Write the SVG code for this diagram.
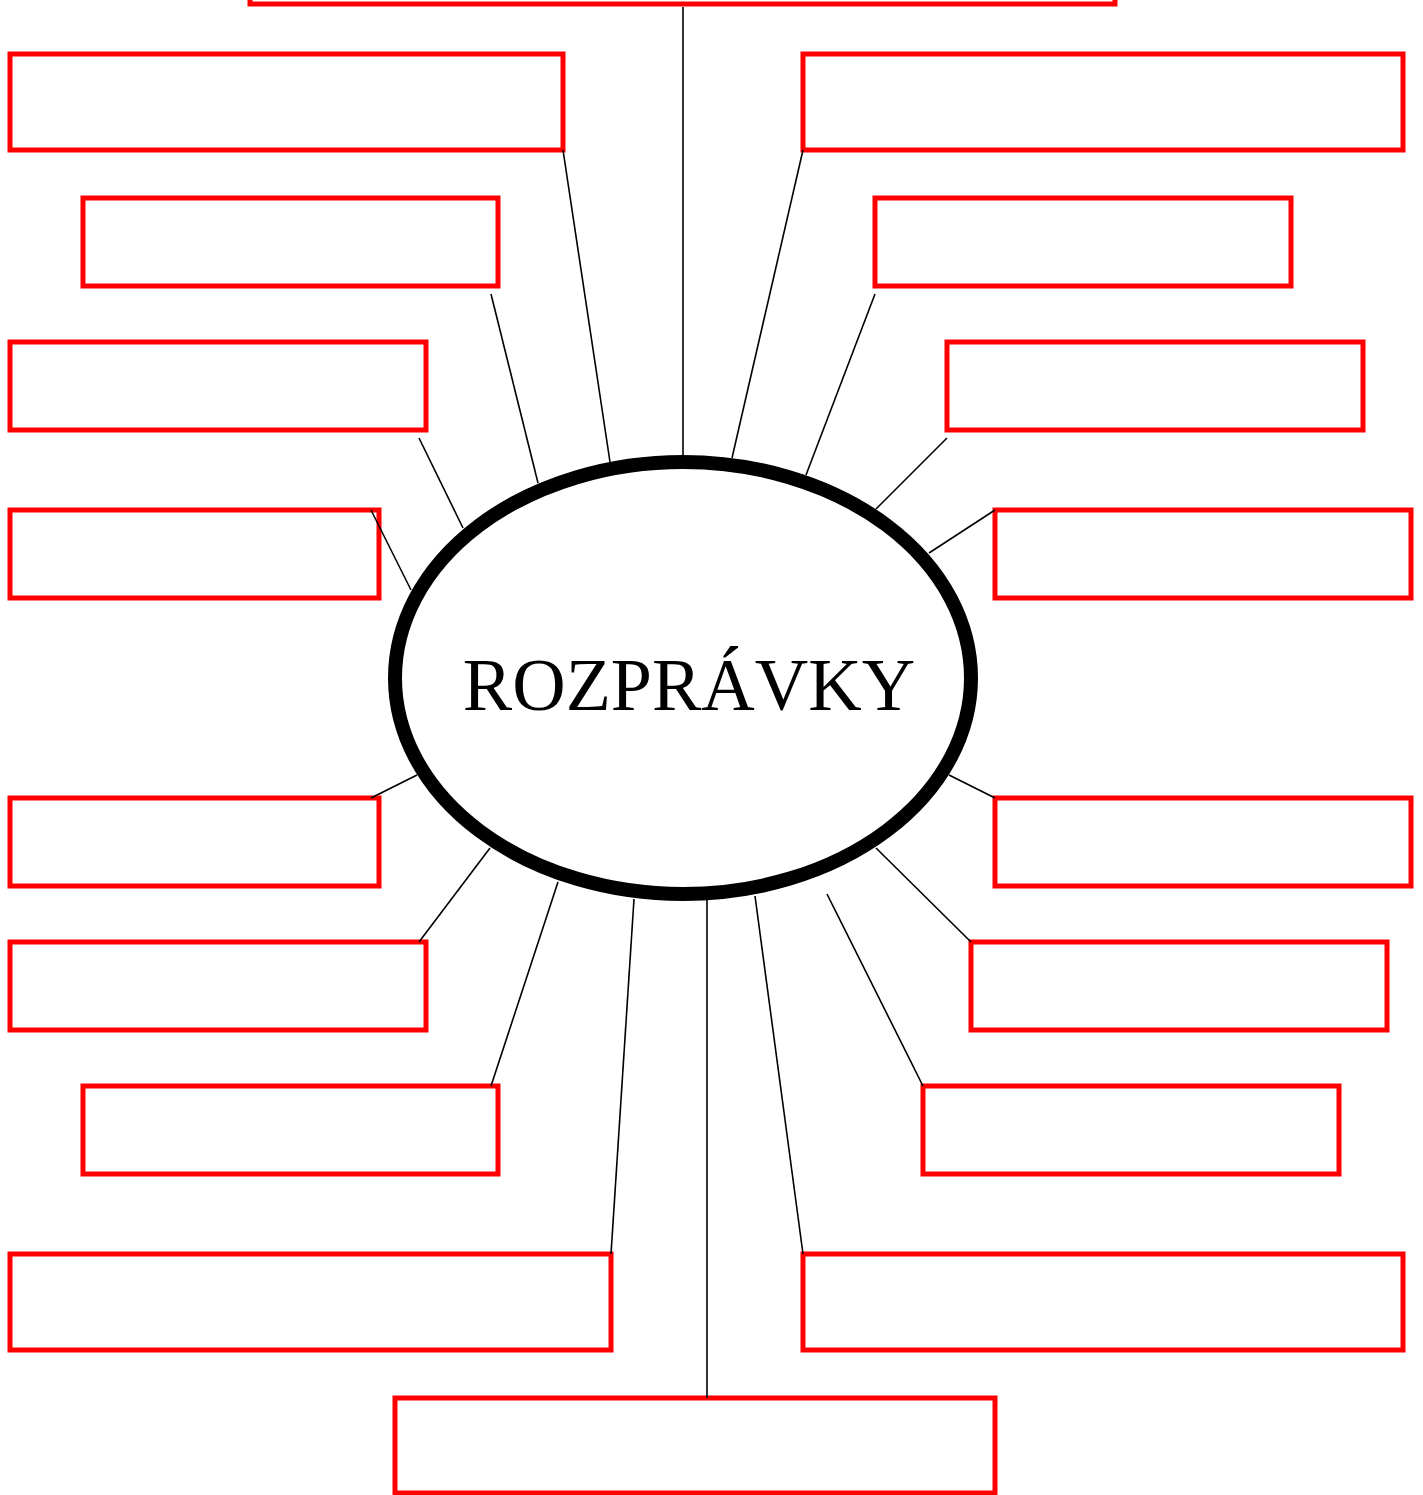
<svg xmlns="http://www.w3.org/2000/svg" width="1423" height="1495" viewBox="0 0 1423 1495">
<style>
.box{fill:#fff;stroke:#ff0000;stroke-width:5}
.c{stroke:#000;stroke-width:1.6;fill:none}
.t{font-family:"Liberation Serif",serif;font-size:74px;fill:#000}
</style>
<rect width="1423" height="1495" fill="#fff"/>
<g id="n0"><rect class="box" x="250" y="-40" width="865" height="44"/></g>
<g id="n1"><rect class="box" x="10" y="54" width="553" height="96"/></g>
<g id="n2"><rect class="box" x="803" y="54" width="600" height="96"/></g>
<g id="n3"><rect class="box" x="83" y="198" width="415" height="88"/></g>
<g id="n4"><rect class="box" x="875" y="198" width="416" height="88"/></g>
<g id="n5"><rect class="box" x="10" y="342" width="416" height="88"/></g>
<g id="n6"><rect class="box" x="947" y="342" width="416" height="88"/></g>
<g id="n7"><rect class="box" x="10" y="510" width="369" height="88"/></g>
<g id="n8"><rect class="box" x="995" y="510" width="416" height="88"/></g>
<g id="n9"><rect class="box" x="10" y="798" width="369" height="88"/></g>
<g id="n10"><rect class="box" x="995" y="798" width="416" height="88"/></g>
<g id="n11"><rect class="box" x="10" y="942" width="416" height="88"/></g>
<g id="n12"><rect class="box" x="971" y="942" width="416" height="88"/></g>
<g id="n13"><rect class="box" x="83" y="1086" width="415" height="88"/></g>
<g id="n14"><rect class="box" x="923" y="1086" width="416" height="88"/></g>
<g id="n15"><rect class="box" x="10" y="1254" width="601" height="96"/></g>
<g id="n16"><rect class="box" x="803" y="1254" width="600" height="96"/></g>
<g id="n17"><rect class="box" x="395" y="1398" width="600" height="95"/></g>
<g id="connectors">
<line class="c" x1="683" y1="7" x2="683" y2="458"/>
<line class="c" x1="563" y1="150" x2="610" y2="462"/>
<line class="c" x1="491" y1="294" x2="538" y2="483"/>
<line class="c" x1="419" y1="438" x2="463" y2="528"/>
<line class="c" x1="371" y1="510" x2="411" y2="590"/>
<line class="c" x1="803" y1="150" x2="732" y2="458"/>
<line class="c" x1="875" y1="294" x2="806" y2="475"/>
<line class="c" x1="947" y1="438" x2="876" y2="509"/>
<line class="c" x1="995" y1="510" x2="929" y2="553"/>
<line class="c" x1="371" y1="798" x2="417" y2="775"/>
<line class="c" x1="419" y1="942" x2="490" y2="848"/>
<line class="c" x1="491" y1="1086" x2="558" y2="882"/>
<line class="c" x1="611" y1="1254" x2="634" y2="899"/>
<line class="c" x1="707" y1="1398" x2="707" y2="900"/>
<line class="c" x1="803" y1="1254" x2="755" y2="896"/>
<line class="c" x1="923" y1="1086" x2="827" y2="894"/>
<line class="c" x1="971" y1="942" x2="876" y2="848"/>
<line class="c" x1="995" y1="798" x2="949" y2="775"/>
</g>
<g id="center">
<ellipse cx="683" cy="678" rx="288" ry="216" fill="#fff" stroke="#000" stroke-width="14"/>
<text class="t" x="689" y="710" text-anchor="middle">ROZPRÁVKY</text>
</g>
</svg>
